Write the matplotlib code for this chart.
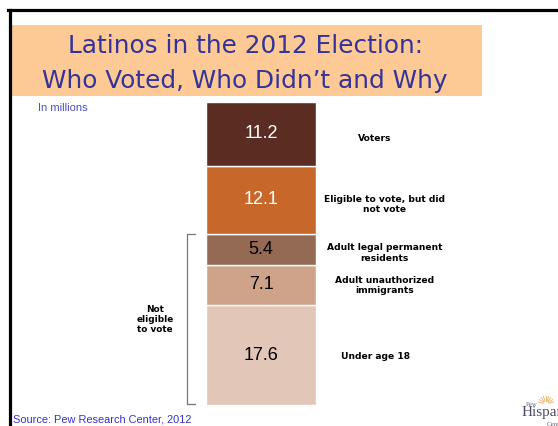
import matplotlib
matplotlib.use("Agg")
import matplotlib.pyplot as plt
from matplotlib.patches import Rectangle
from matplotlib.lines import Line2D
import numpy as np

# Data (top to bottom in the picture)
categories = ["Voters", "Eligible to vote, but did\nnot vote", "Adult legal permanent\nresidents",
              "Adult unauthorized\nimmigrants", "Under age 18"]
values = [11.2, 12.1, 5.4, 7.1, 17.6]
colors = ["#5B2D22", "#C8672A", "#956A55", "#CFA389", "#E2C6B7"]
value_colors = ["white", "white", "black", "black", "black"]
title_lines = ["Latinos in the 2012 Election:", "Who Voted, Who Didn\u2019t and Why"]
bracket_label = "Not\neligible\nto vote"
n_not_eligible = 3  # bottom three segments

W, H = 558, 426
fig = plt.figure(figsize=(W / 100, H / 100), dpi=100)
fig.patch.set_facecolor("white")

def fx(px):
    return px / W

def fy(py):
    return 1 - py / H

# Frame lines
fig.add_artist(Line2D([fx(8), 1.0], [fy(9.5), fy(9.5)], color="black", lw=2.3, transform=fig.transFigure))
fig.add_artist(Line2D([fx(9.5), fx(9.5)], [0, fy(9.5)], color="black", lw=2.3, transform=fig.transFigure))

# Title box
fig.add_artist(Rectangle((fx(11), fy(96)), (482 - 11) / W, (96 - 25) / H,
                         facecolor="#FDC995", edgecolor="none", transform=fig.transFigure))
for line, base in zip(title_lines, [53, 88]):
    fig.text(fx(245), fy(base), line, ha="center", va="baseline", color="#333399",
             fontsize=17.8, family="DejaVu Sans")

fig.text(fx(38), fy(108), "In millions", ha="left", va="center", color="#4F4FC0",
         fontsize=8, family="Liberation Sans")
fig.text(fx(13), fy(420), "Source: Pew Research Center, 2012", ha="left", va="center",
         color="#3333CC", fontsize=7.9, family="Liberation Sans")

# Pew logo (text approximation)
fig.text(fx(526), fy(405), "Pew", ha="left", va="center", color="#666677",
         fontsize=5, family="Liberation Serif")
fig.text(fx(522), fy(416), "Hispanic", ha="left", va="baseline", color="#4A4A66",
         fontsize=11, family="Liberation Serif")
fig.text(fx(547), fy(424), "Center", ha="left", va="center", color="#666677",
         fontsize=5, family="Liberation Serif")
for ang in np.linspace(15, 165, 9):
    r0, r1 = 3, 8
    cx, cy = 546, 404
    a = np.deg2rad(ang)
    fig.add_artist(Line2D([fx(cx + r0 * np.cos(a)), fx(cx + r1 * np.cos(a))],
                          [fy(cy - r0 * np.sin(a)), fy(cy - r1 * np.sin(a))],
                          color="#E8B060", lw=0.6, transform=fig.transFigure))

# Bar axes
x0, x1 = 206, 316
ytop, ybot = 102, 405
ax = fig.add_axes([fx(x0), fy(ybot), (x1 - x0) / W, (ybot - ytop) / H])
ax.set_axis_off()
total = sum(values)
ax.set_xlim(-0.5, 0.5)
ax.set_ylim(0, total)
px_per_unit = (ybot - ytop) / total

bottom = 0
segs = []
for v, c in zip(values[::-1], colors[::-1]):
    ax.bar(0, v, bottom=bottom, width=1.0, color=c, edgecolor="white", linewidth=1.0)
    segs.append((bottom, v))
    bottom += v
segs = segs[::-1]

label_x_px = [375, 384.5, 384.5, 385, 375.5]
label_dy_px = [4.5, 4.5, 3.5, 0.5, 1.0]
for (b, v), cat, vc, lx, dy in zip(segs, categories, value_colors, label_x_px, label_dy_px):
    ax.text(0, b + v / 2, f"{v:.1f}", ha="center", va="center", color=vc,
            fontsize=13, family="Liberation Sans")
    ax.text((lx - x0) / (x1 - x0) - 0.5, b + v / 2 - dy / px_per_unit, cat, ha="center", va="center",
            color="black", fontsize=6.6, family="DejaVu Sans", fontweight="bold",
            clip_on=False, linespacing=1.2)

# Bracket
top_ne = sum(values[-n_not_eligible:])
bx, tx = -0.5 - 19 / 110, -0.5 - 11 / 110
ax.plot([tx, bx, bx, tx], [top_ne, top_ne, 0.1, 0.1], color="#777777", lw=0.9, clip_on=False)
ax.text(-0.5 - 51 / 110, top_ne / 2, bracket_label, ha="center", va="center",
        fontsize=6.4, family="DejaVu Sans", fontweight="bold", linespacing=1.12)

fig.savefig("out.png", dpi=100)
